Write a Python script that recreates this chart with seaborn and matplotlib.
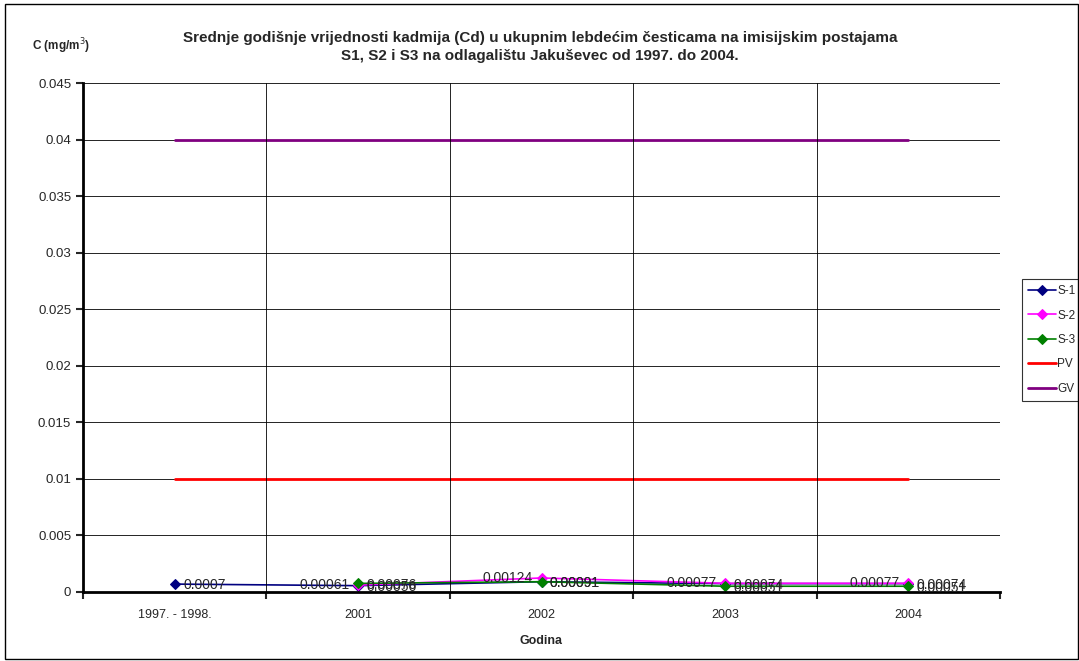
import numpy as np
import pandas as pd
import matplotlib.pyplot as plt
import seaborn as sns

# ---------------- DATA ----------------
years = ['1997. - 1998.', '2001', '2002', '2003', '2004']
s1 = [0.0007, 0.00056, 0.00091, 0.00074, 0.00074]
s2 = [np.nan, 0.00061, 0.00124, 0.00077, 0.00077]
s3 = [np.nan, 0.00076, 0.00091, 0.00051, 0.00051]
pv = [0.01, 0.01, 0.01, 0.01, 0.01]
gv = [0.04, 0.04, 0.04, 0.04, 0.04]

series = {'S-1': s1, 'S-2': s2, 'S-3': s3, 'PV': pv, 'GV': gv}
colors = {'S-1': '#000080', 'S-2': '#ff00ff', 'S-3': '#008000',
          'PV': '#ff0000', 'GV': '#800080'}

df = pd.DataFrame(series, index=years)
df.index.name = 'Godina'
long = df.reset_index().melt(id_vars='Godina', var_name='serija', value_name='C')

# ---------------- STYLE ----------------
sns.set_style('white')
plt.rcParams['font.family'] = ['Liberation Sans', 'DejaVu Sans']

fig = plt.figure(figsize=(10.79, 6.61), dpi=100)
ax = fig.add_axes([83 / 1079, 1 - 592 / 661, 917 / 1079, 509 / 661])

# ---------------- LINES ----------------
for name in ['S-1', 'S-2', 'S-3']:
    d = long[(long['serija'] == name)].dropna()
    sns.lineplot(data=d, x='Godina', y='C', ax=ax, color=colors[name], lw=1.2,
                 marker='D', markersize=5, markeredgecolor=colors[name],
                 label=name, sort=False)
for name in ['PV', 'GV']:
    d = long[long['serija'] == name]
    sns.lineplot(data=d, x='Godina', y='C', ax=ax, color=colors[name], lw=2,
                 label=name, sort=False)

# data labels (overlapping like in the original)
for name in ['S-1', 'S-2', 'S-3']:
    for i, v in enumerate(df[name]):
        if np.isnan(v):
            continue
        if name == 'S-2':
            ax.annotate(f"{v:g}", (i, v), xytext=(-6, 0), textcoords='offset points',
                        ha='right', va='center', fontsize=10)
        else:
            ax.annotate(f"{v:g}", (i, v), xytext=(6, -1), textcoords='offset points',
                        ha='left', va='center', fontsize=10)

# ---------------- AXES ----------------
ax.set_xlim(-0.5, 4.5)
ax.set_ylim(0, 0.045)
ax.set_yticks(np.arange(0, 0.0451, 0.005))
ax.set_yticklabels(['0', '0.005', '0.01', '0.015', '0.02', '0.025', '0.03',
                    '0.035', '0.04', '0.045'])
ax.yaxis.grid(True, color='black', lw=0.6)
for b in np.arange(0.5, 4.5, 1):
    ax.axvline(b, color='black', lw=0.6)
ax.set_xticks(range(len(years)))
ax.set_xticklabels(years)
ax.tick_params(axis='x', length=0, labelsize=9, pad=12)
ax.tick_params(axis='y', length=5, width=1.5, labelsize=9.5, left=True, direction='out')
ax.set_xticks(np.arange(-0.5, 4.6, 1), minor=True)
ax.tick_params(axis='x', which='minor', length=5, width=1.5, bottom=True, direction='out')

for side in ['top', 'right']:
    ax.spines[side].set_visible(False)
for side in ['left', 'bottom']:
    ax.spines[side].set_linewidth(2)
    ax.spines[side].set_color('black')

ax.set_xlabel('Godina', fontsize=9, fontweight='bold', labelpad=10)
ax.set_ylabel('')

fig.text(90 / 1079, 1 - 46 / 661, 'C (mg/m$^3$)', fontsize=8.5, fontweight='bold',
         ha='right', va='center')
fig.text(540 / 1079, 1 - 47 / 661,
         'Srednje godišnje vrijednosti kadmija (Cd) u ukupnim lebdećim česticama na imisijskim postajama\n'
         'S1, S2 i S3 na odlagalištu Jakuševec od 1997. do 2004.',
         fontsize=11, fontweight='bold', ha='center', va='center', linespacing=1.3)

leg = ax.legend(loc='center left', bbox_to_anchor=(1022 / 1079, 1 - 340 / 661),
                bbox_transform=fig.transFigure, frameon=True, fontsize=8.5,
                handlelength=2.4, handletextpad=0.1, borderpad=0.5,
                labelspacing=1.05, fancybox=False, borderaxespad=0)
leg.get_frame().set_edgecolor('black')
leg.get_frame().set_linewidth(0.8)

# outer border
fig.patches.append(plt.Rectangle((5 / 1079, 2 / 661), 1 - 6 / 1079, 1 - 6 / 661,
                                 transform=fig.transFigure,
                                 fill=False, edgecolor='black', lw=1))

fig.savefig('out.png', dpi=100)
